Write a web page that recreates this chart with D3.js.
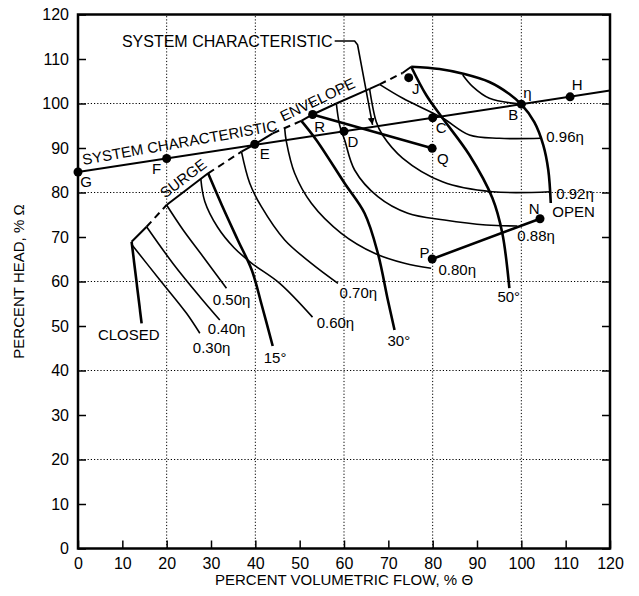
<!DOCTYPE html>
<html><head><meta charset="utf-8">
<script src="https://cdn.jsdelivr.net/npm/d3@7"></script>
<style>
body{margin:0;background:#fff}
text{font-family:"Liberation Sans",Arial,Helvetica,sans-serif;fill:#000}
</style>
</head><body>
<svg id="c" width="639" height="596"></svg>
<script>
// ---------- data ----------
const xTicks = [0,10,20,30,40,50,60,70,80,90,100,110,120];
const yTicks = [0,10,20,30,40,50,60,70,80,90,100,110,120];
const gridVals = [20,40,60,80,100];

const systemLine = [[0,84.6],[120,102.9]];
const envelope = [[12.09,68.94],[15.47,72.31],[19.98,77.19],[29.35,84.31],[36.87,89.17],[39.86,90.83],[43.92,93.3],[50.38,96.1],[52.93,97.53],[58.27,100.0],[65.77,103.28],[68.02,104.3],[73.2,106.85],[75.16,108.27]];
const envelopeDashedSegments = [1,3,6,11];   // index of segment start that is dashed

const closedLine = [[12.09,68.94],[14.35,50.61]];
const blade15 = [[29.35,84.31],[32.43,77.19],[36.04,69.33],[39.19,62.58],[41.44,54.72],[43.92,45.51]];
const blade30 = [[50.38,96.1],[53.76,91.8],[60.14,82.07],[64.64,75.33],[67.64,66.34],[69.89,55.84],[71.4,49.1]];
const blade50 = [[75.16,108.27],[78.54,101.91],[82.21,96.74],[88.29,88.43],[93.47,78.76],[95.7,70.9],[97.3,58.5]];
const openCurve = [[75.16,108.27],[81.53,107.75],[87.16,106.63],[92.79,104.83],[97.3,102.13],[100.0,99.78],[102.93,95.84],[104.95,90.67],[106.08,85.06],[106.64,77.64]];

const eff30 = [[12.2,68.2],[18.47,60.34],[24.48,52.85],[27.48,48.36]];
const eff40 = [[15.47,72.31],[21.46,64.0],[27.48,56.58],[31.98,51.35]];
const eff50 = [[19.98,77.19],[23.72,71.57],[28.22,65.57],[33.49,58.47]];
const eff60 = [[27.7,83.1],[28.6,78.0],[31.5,72.2],[35.2,67.6],[39.2,64.1],[45.5,59.6],[52.9,52.0]];
const eff70 = [[36.87,89.17],[38.74,82.07],[41.37,76.81],[46.62,69.33],[52.64,64.09],[58.63,59.6]];
const eff80 = [[46.62,94.4],[47.0,91.42],[48.87,84.31],[52.64,77.57],[59.39,70.83],[66.89,66.34],[73.65,64.09],[79.66,62.97]];
const eff88 = [[58.27,100.0],[59.01,95.17],[60.14,91.8],[62.39,85.06],[67.64,79.06],[74.39,75.33],[82.66,73.82],[92.05,72.7],[99.1,72.47]];
const eff92 = [[65.77,103.28],[67.27,95.91],[68.69,92.92],[73.2,87.75],[82.21,82.43],[93.47,80.18],[106.45,80.18]];
const eff96 = [[68.02,104.3],[73.27,101.17],[82.21,96.74],[88.29,92.92],[95.05,92.18],[104.44,92.18]];
const effPeak = [[86.78,106.4],[89.03,103.78],[92.79,101.17],[100,99.85]];

const lineRQ = [[52.93,97.53],[79.89,89.93]];
const linePN = [[79.89,65.06],[104.21,74.11]];

const pointNames = ["G","F","E","D","C","B","H","R","J","Q","P","N"];
const pointXY = [[0,84.6],[20,87.65],[39.86,90.83],[60,93.75],[80,96.8],[100,99.85],[111,101.5],[52.93,97.53],[74.6,105.8],[79.89,89.93],[79.89,65.06],[104.21,74.11]];
const pointLabelXY = [[1.8,82.36],[17.7,85.4],[42.1,88.65],[62.0,91.4],[81.9,94.56],[98.2,97.4],[112.6,104.2],[54.5,94.9],[76.2,103.4],[82.3,87.7],[78.15,66.47],[102.9,76.45]];

const curveLabels = ["0.96η","0.92η","OPEN","0.88η","0.80η","50°","30°","0.70η","0.60η","15°","0.50η","0.40η","0.30η","CLOSED","η"];
const curveLabelXY = [[105.63,92.47],[107.88,79.66],[106.98,75.62],[99.1,70.22],[81.31,62.58],[94.6,56.5],[69.82,46.63],[59.0,57.42],[53.83,50.67],[41.89,42.81],[30.41,55.84],[29.28,49.33],[25.9,45.06],[4.5,47.98],[101.4,102.4]];

const leader = [[57.9,114.04],[62.39,114.04],[63.06,113.2],[66.44,95.2]];
const leaderLabel = "SYSTEM CHARACTERISTIC";
const leaderLabelXY = [57.43,114.04];

const envText1 = "SYSTEM CHARACTERISTIC", envText1XY = [1.2,86.2];
const envText2 = "ENVELOPE", envText2XY = [46.3,95.9];
const surgeText = "SURGE", surgeXY = [23.72,83.19];

const xTitle = "PERCENT VOLUMETRIC FLOW, % Θ";
const yTitle = "PERCENT HEAD, % Ω";

// ---------- chart ----------
const W=639,H=596;
const m={l:78,t:14.5,r:29,b:47.5};
const svg=d3.select("#c");
const x=d3.scaleLinear().domain([0,120]).range([m.l,W-m.r]);
const y=d3.scaleLinear().domain([0,120]).range([H-m.b,m.t]);

// grid
const g=svg.append("g");
g.selectAll(".gx").data(gridVals).join("line")
 .attr("x1",d=>x(d)).attr("x2",d=>x(d)).attr("y1",y(0)).attr("y2",y(120))
 .attr("stroke","#000").attr("stroke-width",1).attr("stroke-dasharray","1.2,2");
g.selectAll(".gy").data(gridVals).join("line")
 .attr("y1",d=>y(d)).attr("y2",d=>y(d)).attr("x1",x(0)).attr("x2",x(120))
 .attr("stroke","#000").attr("stroke-width",1).attr("stroke-dasharray","1.2,2");

// axes
const fs=15, tfs=16;
const ax=svg.append("g").attr("transform",`translate(0,${y(0)})`)
 .call(d3.axisBottom(x).tickValues(xTicks).tickSizeInner(-8).tickSizeOuter(0).tickPadding(9));
const ay=svg.append("g").attr("transform",`translate(${x(0)},0)`)
 .call(d3.axisLeft(y).tickValues(yTicks).tickSizeInner(-8).tickSizeOuter(0).tickPadding(9));
const ar=svg.append("g").attr("transform",`translate(${x(120)},0)`)
 .call(d3.axisRight(y).tickValues(yTicks).tickSizeInner(-8).tickSizeOuter(0).tickFormat(""));
[ax,ay,ar].forEach(a=>{a.select(".domain").remove();a.selectAll("line").attr("stroke","#000").attr("stroke-width",1.5);
 a.selectAll("text").attr("font-size",tfs).attr("font-family",'"Liberation Sans",Arial,sans-serif').attr("fill","#000");});
svg.append("rect").attr("x",x(0)).attr("y",y(120)).attr("width",x(120)-x(0)).attr("height",y(0)-y(120))
 .attr("fill","none").attr("stroke","#000").attr("stroke-width",2.5);

svg.append("text").attr("x",(x(0)+x(120))/2).attr("y",585).attr("text-anchor","middle").attr("font-size",fs).text(xTitle);
svg.append("text").attr("transform",`translate(24,${(y(0)+y(120))/2}) rotate(-90)`).attr("text-anchor","middle").attr("font-size",fs).text(yTitle);

// lines
const smooth=d3.line().x(d=>x(d[0])).y(d=>y(d[1])).curve(d3.curveCatmullRom.alpha(0.5));
const straight=d3.line().x(d=>x(d[0])).y(d=>y(d[1]));
const P=svg.append("g").attr("fill","none").attr("stroke","#000").attr("stroke-linecap","butt").attr("stroke-linejoin","round");

// system line
P.append("path").attr("d",straight(systemLine)).attr("stroke-width",2);
// envelope
for(let i=0;i<envelope.length-1;i++){
  const seg=[envelope[i],envelope[i+1]];
  const p=P.append("path").attr("d",straight(seg)).attr("stroke-width",2);
  if(envelopeDashedSegments.includes(i)) p.attr("stroke-dasharray","7,5");
}
// thin efficiency contours
[eff30,eff40,eff50,eff60,eff70,eff80,eff88,eff92,eff96,effPeak].forEach(c=>
  P.append("path").attr("d",smooth(c)).attr("stroke-width",1.6));
// thick blade curves
[blade15,blade30,blade50,openCurve].forEach(c=>
  P.append("path").attr("d",smooth(c)).attr("stroke-width",2.6));
P.append("path").attr("d",straight(closedLine)).attr("stroke-width",2.6);
P.append("path").attr("d",straight(lineRQ)).attr("stroke-width",2.6);
P.append("path").attr("d",straight(linePN)).attr("stroke-width",2.6);

// leader with arrow
svg.append("defs").append("marker").attr("id","arr").attr("viewBox","0 0 10 10").attr("refX",10).attr("refY",5)
 .attr("markerWidth",7).attr("markerHeight",9).attr("markerUnits","userSpaceOnUse").attr("orient","auto")
 .append("path").attr("d","M0,0 L10,5 L0,10 Z").attr("fill","#000");
P.append("path").attr("d",straight(leader)).attr("stroke-width",1.6).attr("marker-end","url(#arr)");

// points
svg.append("g").selectAll("circle").data(pointXY).join("circle")
 .attr("cx",d=>x(d[0])).attr("cy",d=>y(d[1])).attr("r",4.5).attr("fill","#000");
svg.append("g").selectAll("text").data(pointNames).join("text")
 .attr("x",(d,i)=>x(pointLabelXY[i][0])).attr("y",(d,i)=>y(pointLabelXY[i][1])).attr("dy","0.36em")
 .attr("text-anchor","middle").attr("font-size",fs).text(d=>d);

// curve labels
svg.append("g").selectAll("text").data(curveLabels).join("text")
 .attr("x",(d,i)=>x(curveLabelXY[i][0])).attr("y",(d,i)=>y(curveLabelXY[i][1])).attr("dy","0.36em")
 .attr("text-anchor",(d)=>d==="η"?"middle":"start").attr("font-size",fs).text(d=>d);

// annotations
svg.append("text").attr("x",x(leaderLabelXY[0])).attr("y",y(leaderLabelXY[1])).attr("dy","0.36em")
 .attr("text-anchor","end").attr("font-size",16).text(leaderLabel);
svg.append("text").attr("transform",`translate(${x(envText1XY[0])},${y(envText1XY[1])}) rotate(-10)`)
 .attr("font-size",fs).text(envText1);
svg.append("text").attr("transform",`translate(${x(envText2XY[0])},${y(envText2XY[1])}) rotate(-25.5)`)
 .attr("font-size",fs).text(envText2);
svg.append("text").attr("transform",`translate(${x(surgeXY[0])},${y(surgeXY[1])}) rotate(-37)`)
 .attr("text-anchor","middle").attr("dy","0.36em").attr("font-size",fs).text(surgeText);
</script>
</body></html>
